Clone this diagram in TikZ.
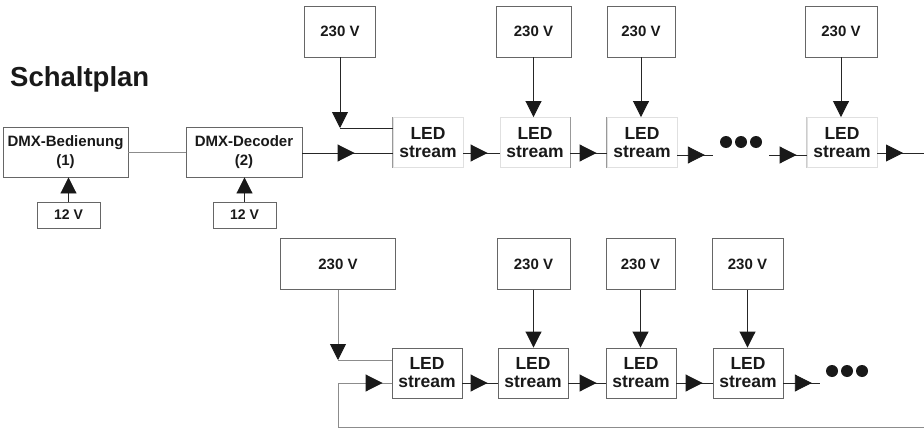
\documentclass[tikz,border=0pt]{standalone}
\usepackage{fontspec}
\setmainfont{Liberation Sans}
\usetikzlibrary{arrows.meta,decorations.markings}
\begin{document}
\begin{tikzpicture}[x=1pt,y=-1pt,
  box/.style={draw=black!60, line width=0.9pt, inner sep=0pt, align=center, text=black!90,
              font=\bfseries\fontsize{15}{19}\selectfont},
  vbox/.style={box, minimum height=51pt},
  led/.style={box, minimum width=70pt, minimum height=50pt, font=\bfseries\fontsize{17.5}{18}\selectfont},
  faintled/.style={led, draw=black!12},
  sbox/.style={box, minimum width=63pt, minimum height=26pt, font=\bfseries\fontsize{14}{16}\selectfont},
  conn/.style={line width=0.9pt, draw=black!85},
  faint/.style={line width=0.9pt, draw=black!45},
  arr/.style={conn, -{Triangle[length=16pt,width=16pt,color=black!90]}},
  midtri/.style={postaction={decorate,decoration={markings,
     mark=at position #1 with {\arrow{Triangle[length=17pt,width=17pt,color=black!90]}}}}},
  dotsnode/.style={inner sep=0pt, minimum height=14pt}
]
\useasboundingbox (0,0) rectangle (924,428);

% title
\node[anchor=base west, inner sep=0pt, text=black!90, font=\bfseries\fontsize{27.5}{32}\selectfont] (title) at (10,86) {Schaltplan};

% ---------- top row ----------
\node[box, minimum width=125pt, minimum height=50pt] (dmx1) at (65.5,152) {DMX-Bedienung\\(1)};
\node[box, minimum width=116pt, minimum height=50pt] (dmx2) at (244,152) {DMX-Decoder\\(2)};
\node[sbox] (v12a) at (68.5,215) {12 V};
\node[sbox] (v12b) at (244.5,215) {12 V};

\node[vbox, minimum width=71pt] (t1) at (340,31.5) {230 V};
\node[vbox, minimum width=75pt] (t2) at (533.5,31.5) {230 V};
\node[vbox, minimum width=68pt] (t3) at (641,31.5) {230 V};
\node[vbox, minimum width=72pt] (t4) at (841,31.5) {230 V};

\node[faintled] (l1) at (428,142.5) {LED\\stream};
\node[faintled] (l2) at (535,142.5) {LED\\stream};
\node[faintled] (l3) at (642,142.5) {LED\\stream};
\node[faintled] (l4) at (842,142.5) {LED\\stream};
\draw[black!40, line width=0.8pt] (l1.north west) -- (l1.south west);
\draw[black!40, line width=0.8pt] (l2.north east) -- (l2.south east);
\draw[black!40, line width=0.8pt] (l3.north west) -- (l3.south west);
\draw[black!20, line width=0.8pt] (l4.north west) -- (l4.south west);

\node[dotsnode, minimum width=56pt] (dA) at (741,142) {};
\foreach \dx in {-15,0,15} \fill[black!90] ([xshift=\dx pt]dA.center) circle[radius=6pt];

\coordinate (rowA) at (0,153);
\coordinate (rowA2) at (0,155);
\coordinate (cA) at (340,128);
\coordinate (endA) at (924,153);

\draw[faint] (dmx1) -- (dmx2);
\draw[arr] (v12a.north) -- (v12a.north |- dmx1.south);
\draw[arr] (v12b.north) -- (v12b.north |- dmx2.south);

\draw[conn, midtri=-38pt] (dmx2.east |- rowA) -- (l1.west |- rowA);
\draw[arr] (t1.south) -- (cA);
\draw[conn] (cA) -- (l1.west |- cA);
\draw[arr] (t2.south) -- (t2.south |- l2.north);
\draw[arr] (t3.south) -- (t3.south |- l3.north);
\draw[arr] (t4.south) -- (t4.south |- l4.north);

\draw[conn, midtri=-12pt] (l1.east |- rowA) -- (l2.west |- rowA);
\draw[conn, midtri=-10pt] (l2.east |- rowA) -- (l3.west |- rowA);
\draw[conn, midtri=-8pt] (l3.east |- rowA2) -- (dA.west |- rowA2);
\draw[conn, midtri=-10pt] (dA.east |- rowA2) -- (l4.west |- rowA2);
\draw[conn, midtri=-21pt] (l4.east |- rowA) -- (endA);

% ---------- bottom row ----------
\node[vbox, minimum width=115pt] (b1) at (338,264) {230 V};
\node[vbox, minimum width=73pt] (b2) at (533.5,264) {230 V};
\node[vbox, minimum width=69pt] (b3) at (640.5,264) {230 V};
\node[vbox, minimum width=71pt] (b4) at (747.5,264) {230 V};

\node[led] (m1) at (427,373) {LED\\stream};
\node[led] (m2) at (533,373) {LED\\stream};
\node[led] (m3) at (641,373) {LED\\stream};
\node[led] (m4) at (748,373) {LED\\stream};

\node[dotsnode, minimum width=54pt] (dB) at (847,371) {};
\foreach \dx in {-15,0,15} \fill[black!90] ([xshift=\dx pt]dB.center) circle[radius=6pt];

\coordinate (rowB) at (0,383);
\coordinate (cB) at (338,360);
\coordinate (fbR) at (924,427);
\coordinate (fbL) at (338,427);

\draw[faint, -{Triangle[length=16pt,width=16pt,color=black!90]}] (b1.south) -- (cB);
\draw[faint] (cB) -- (m1.west |- cB);
\draw[faint, midtri=-9pt] (fbR) -- (fbL) |- (m1.west |- rowB);

\draw[arr] (b2.south) -- (b2.south |- m2.north);
\draw[arr] (b3.south) -- (b3.south |- m3.north);
\draw[arr] (b4.south) -- (b4.south |- m4.north);

\draw[conn, midtri=-10pt] (m1.east |- rowB) -- (m2.west |- rowB);
\draw[conn, midtri=-9pt] (m2.east |- rowB) -- (m3.west |- rowB);
\draw[conn, midtri=-10pt] (m3.east |- rowB) -- (m4.west |- rowB);
\draw[conn, midtri=-8pt] (m4.east |- rowB) -- (dB.west |- rowB);
\end{tikzpicture}
\end{document}
